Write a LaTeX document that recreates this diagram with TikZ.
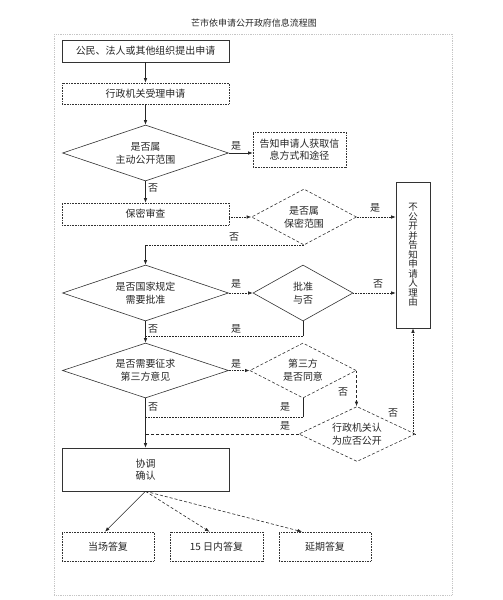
\documentclass[tikz,border=0pt]{standalone}
\usepackage{fontspec}
\newfontfamily\cjk{Noto Sans CJK SC}
\usetikzlibrary{arrows.meta,shapes.geometric,calc}
\tikzset{
  flowbox/.style={draw=black!80, line width=0.6pt, inner sep=1pt, align=center,
    font=\cjk\fontsize{10}{12}\selectfont, text=black!85},
  dotbox/.style={flowbox, densely dotted},
  choice/.style={diamond, draw=black!80, line width=0.6pt, inner sep=0pt, aspect=3,
    align=center, font=\cjk\fontsize{10}{13}\selectfont, text=black!85},
  dashchoice/.style={choice, densely dashed},
  tag/.style={font=\cjk\fontsize{10}{12}\selectfont, text=black!85, inner sep=0pt},
  link/.style={draw=black!85, line width=0.6pt},
  dotlink/.style={link, densely dotted},
  arr/.style={link, -{Latex[length=4.5pt,width=3.5pt]}},
}
\begin{document}
\begin{tikzpicture}[x=1bp,y=-1bp]
    \useasboundingbox (0,0) rectangle (503,600);
    % title and outer frame
    \node[font=\cjk\fontsize{9}{11}\selectfont, text=black!85] (title) at (254,23) {芒市依申请公开政府信息流程图};
    \draw[gray!45, densely dotted, line width=0.8pt] (54,34) rectangle (452,595);
    % left column
    \node[flowbox, minimum width=167bp, minimum height=22bp] (apply) at (145.5,51) {公民、法人或其他组织提出申请};
    \node[dotbox, minimum width=167bp, minimum height=21bp] (accept) at (145.5,93.5) {行政机关受理申请};
    \node[choice, minimum width=166bp, minimum height=56bp] (active) at (145.5,153) {是否属\\主动公开范围};
    \node[dotbox, minimum width=93bp, minimum height=35bp] (notify) at (299.5,149.5) {告知申请人获取信\\息方式和途径};
    \node[dotbox, minimum width=167bp, minimum height=22bp] (secret) at (145.5,214) {保密审查};
    \node[dashchoice, minimum width=98bp, minimum height=56bp] (secq) at (304,217) {是否属\\保密范围};
    \node[flowbox, minimum width=34bp, minimum height=146bp, text width=10bp,
      font=\cjk\fontsize{9.5}{9.5}\selectfont] (refuse) at (413,255) {不\\公\\开\\并\\告\\知\\申\\请\\人\\理\\由};
    \node[choice, minimum width=166bp, minimum height=56bp] (law) at (145.5,293) {是否国家规定\\需要批准};
    \node[choice, minimum width=100bp, minimum height=56bp] (approve) at (303,293) {批准\\与否};
    \node[choice, minimum width=166bp, minimum height=55bp] (third) at (145.5,370.5) {是否需要征求\\第三方意见};
    \node[dashchoice, minimum width=100bp, minimum height=55bp] (agree) at (303,370.5) {第三方\\是否同意};
    \node[dashchoice, minimum width=108bp, minimum height=55bp] (judge) at (357,434) {行政机关认\\为应否公开};
    \node[flowbox, minimum width=167bp, minimum height=43bp] (coord) at (145.5,469.5) {协调\\确认};
    % answers
    \node[dotbox, minimum width=92bp, minimum height=29bp] (now) at (108,546.5) {当场答复};
    \node[dotbox, minimum width=93bp, minimum height=29bp] (days) at (216.5,546.5) {15 日内答复};
    \node[dotbox, minimum width=92bp, minimum height=29bp] (delay) at (325,546.5) {延期答复};
    % connectors
    \draw[arr] (apply) -- (accept);
    \draw[arr] (accept) -- (active);
    \draw[arr] (active.east) -- (active.east -| notify.west);
    \draw[arr] (active.south) -- (secret.north);
    \draw[arr, densely dotted] (secret.east |- secq.west) -- (secq.west);
    \draw[arr, densely dotted] (secq.east) -- (secq.east -| refuse.west);
    \coordinate (j1) at (secq.south -| law.north);
    \draw[dotlink] (secq.south) -- (j1);
    \draw[arr] (j1) -- (law.north);
    \draw[arr, densely dotted] (law.east) -- (approve.west);
    \draw[arr, densely dotted] (approve.east) -- (approve.east -| refuse.west);
    \draw[arr] (law.south) -- (third.north);
    \draw[link] (approve.south) -- ++(0,15) coordinate (j2);
    \draw[dotlink] (j2) -- (j2 -| law.south);
    \draw[arr, densely dotted] (third.east) -- (agree.west);
    \draw[arr, densely dashed] (agree.east) -- (agree.east |- judge.north);
    \draw[arr, densely dotted] (judge.east) -| (refuse.south);
    \draw[link] (agree.south) -- ++(0,19) coordinate (j3);
    \draw[dotlink] (j3) -- (j3 -| third.south);
    \draw[link, densely dashed] (judge.west) -- (judge.west -| third.south);
    \draw[arr] (third.south) -- (coord.north);
    \draw[arr] (coord.south) -- ($(now.north)+(-3,0)$);
    \draw[arr, densely dashed] (coord.south) -- ($(days.north)+(-7,0)$);
    \draw[arr, densely dashed] (coord.south) -- ($(delay.north)+(-23,0)$);
    % branch labels
    \node[tag] (y1) at (236,146) {是};
    \node[tag] (n1) at (153,188) {否};
    \node[tag] (y2) at (375,208) {是};
    \node[tag] (n2) at (234,237) {否};
    \node[tag] (y3) at (236,284) {是};
    \node[tag] (n3) at (378,284) {否};
    \node[tag] (n4) at (153,329) {否};
    \node[tag] (y4) at (236,329) {是};
    \node[tag] (y5) at (236,364) {是};
    \node[tag] (n5) at (343,392) {否};
    \node[tag] (n6) at (393,413) {否};
    \node[tag] (y6) at (285,407) {是};
    \node[tag] (n7) at (153,407) {否};
    \node[tag] (y7) at (285,426) {是};
\end{tikzpicture}
\end{document}
